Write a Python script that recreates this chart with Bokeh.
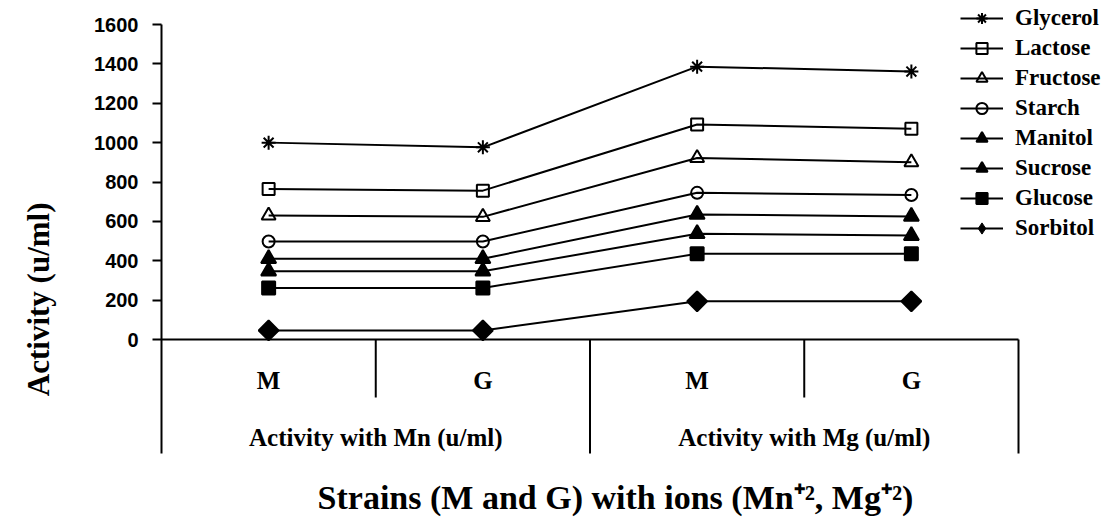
import math
from bokeh.plotting import figure
from bokeh.models import Range1d, FixedTicker, Legend, LegendItem, LinearAxis, Label
from bokeh.embed import file_html
from bokeh.resources import INLINE
from bokeh.core.properties import value

# ---------------- data ----------------
strains = ["M", "G", "M", "G"]
ion_groups = ["Activity with Mn (u/ml)", "Activity with Mg (u/ml)"]
y_ticks = [0, 200, 400, 600, 800, 1000, 1200, 1400, 1600]
y_title = "Activity (u/ml)"
x_title = "Strains (M and G) with ions (Mn\u207a\u00b2, Mg\u207a\u00b2)"

series_names = ["Glycerol", "Lactose", "Fructose", "Starch",
                "Manitol", "Sucrose", "Glucose", "Sorbitol"]
glycerol = [1000, 976, 1386, 1361]
lactose = [765, 756, 1092, 1070]
fructose = [630, 623, 922, 900]
starch = [498, 498, 745, 734]
manitol = [410, 410, 635, 625]
sucrose = [347, 347, 537, 528]
glucose = [262, 262, 435, 435]
sorbitol = [46, 46, 194, 194]
series_values = [glycerol, lactose, fructose, starch,
                 manitol, sucrose, glucose, sorbitol]

# ---------------- styles ----------------
marker_styles = [
    dict(marker="asterisk", size=14, fill_color=None),
    dict(marker="square", size=12, fill_color=None),
    dict(marker="triangle", size=14, fill_color=None),
    dict(marker="circle", size=12, fill_color=None),
    dict(marker="triangle", size=15, fill_color="black"),
    dict(marker="triangle", size=15, fill_color="black"),
    dict(marker="square", size=13, fill_color="black"),
    dict(marker="square", size=14, fill_color="black", angle=math.pi / 4),
]
# marker shown in the legend (the legend ignores marker angles)
legend_marker_override = {"Sorbitol": dict(marker="diamond", size=17, fill_color="black")}

W, H = 1120, 518
FRAME_LEFT = 161
cell_px = 214.25                 # width of one strain cell
top_px, zero_px, axis_bottom_px = 24, 339, 453
ppu = (zero_px - top_px) / y_ticks[-1]          # pixels per unit
y_end = y_ticks[-1] + top_px / ppu
y_start = -(H - zero_px) / ppu
y_axis_bottom = -(axis_bottom_px - zero_px) / ppu
x_end = (W - FRAME_LEFT) / cell_px

p = figure(width=W, height=H, output_backend="svg", toolbar_location=None,
           x_range=Range1d(0, x_end), y_range=Range1d(y_start, y_end),
           x_axis_type=None, title=None,
           min_border_left=FRAME_LEFT, min_border_right=0,
           min_border_top=0, min_border_bottom=0)
p.outline_line_color = None
p.grid.visible = False
p.background_fill_color = "white"
p.border_fill_color = "white"

ax = p.yaxis[0]
ax.ticker = FixedTicker(ticks=y_ticks)
ax.bounds = (y_axis_bottom, y_ticks[-1])
ax.axis_line_width = 2
ax.axis_line_color = "black"
ax.major_tick_line_width = 2
ax.major_tick_line_color = "black"
ax.major_tick_out = 9
ax.major_tick_in = 0
ax.minor_tick_out = 0
ax.minor_tick_in = 0
ax.major_label_standoff = 14
ax.major_label_text_font = "Liberation Sans"
ax.major_label_text_font_style = "bold"
ax.major_label_text_font_size = "20px"
ax.major_label_text_color = "black"

# outer left axis carrying the vertical title
title_pos = (zero_px - 202) / ppu
tax = LinearAxis(ticker=FixedTicker(ticks=[title_pos]),
                 major_label_overrides={title_pos: y_title},
                 major_label_orientation=math.pi / 2,
                 axis_line_color=None, major_tick_line_color=None,
                 minor_tick_line_color=None, major_tick_out=0, major_tick_in=0,
                 major_label_standoff=53,
                 major_label_text_font="Liberation Serif",
                 major_label_text_font_style="bold",
                 major_label_text_font_size="31px",
                 major_label_text_color="black")
p.add_layout(tax, "left")

# category axis drawn in data space
n = len(strains)
xs = [i + 0.5 for i in range(n)]
inner_depth = -58 / ppu
p.segment(x0=[0], y0=[0], x1=[n], y1=[0], line_color="black", line_width=2)
p.segment(x0=[i for i in range(1, n + 1)], y0=[0] * n,
          x1=[i for i in range(1, n + 1)],
          y1=[inner_depth if i % 2 else y_axis_bottom for i in range(1, n + 1)],
          line_color="black", line_width=2)
p.text(x=xs, y=[0] * n, text=strains, y_offset=41,
       text_align="center", text_baseline="middle",
       text_font=value("Liberation Serif"), text_font_style="bold",
       text_font_size="25px", text_color="black")
gsize = n // len(ion_groups)
gx = [g * gsize + gsize / 2 for g in range(len(ion_groups))]
p.text(x=gx, y=[0] * len(gx), text=ion_groups, y_offset=98,
       text_align="center", text_baseline="middle",
       text_font=value("Liberation Serif"), text_font_style="bold",
       text_font_size="25px", text_color="black")

items = []
for name, vals, st in zip(series_names, series_values, marker_styles):
    lr = p.line(xs, vals, line_color="black", line_width=2)
    if name in legend_marker_override:
        # drawn underneath the rotated square, used for the legend symbol
        lm = p.scatter(xs, vals, line_color="black", line_width=1,
                       **legend_marker_override[name])
    sr = p.scatter(xs, vals, line_color="black", line_width=2, **st)
    if name in legend_marker_override:
        sr = lm
    items.append(LegendItem(label=name, renderers=[lr, sr]))

legend = Legend(items=items, location=(799, 276), orientation="vertical",
                glyph_width=43, glyph_height=28, label_height=28, spacing=2,
                label_standoff=12, padding=0, margin=0,
                border_line_alpha=0, background_fill_alpha=0,
                label_text_font="Liberation Serif", label_text_font_style="bold",
                label_text_font_size="23px", label_text_color="black")
p.add_layout(legend)

p.add_layout(Label(x=454, y=21, x_units="screen", y_units="screen",
                   text=x_title, text_align="center", text_baseline="middle",
                   text_font="Liberation Serif", text_font_style="bold",
                   text_font_size="34px", text_color="black"))

open("out.html", "w").write(file_html(p, INLINE))
